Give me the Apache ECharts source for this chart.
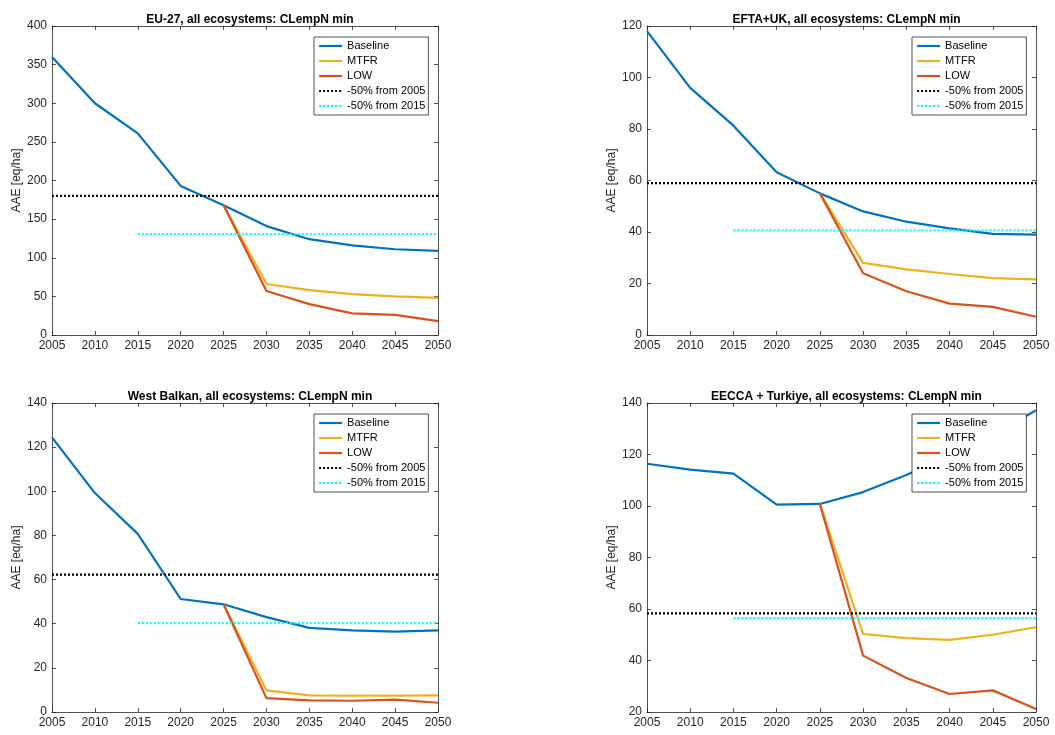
<!DOCTYPE html>
<html>
<head>
<meta charset="utf-8">
<script src="https://cdn.jsdelivr.net/npm/echarts@6/dist/echarts.min.js"></script>
<style>html,body{margin:0;padding:0;background:#fff}#c{width:1055px;height:735px}</style>
</head>
<body>
<div id="c"></div>
<script>
const years = [2005, 2010, 2015, 2020, 2025, 2030, 2035, 2040, 2045, 2050];
const seriesNames = ['Baseline', 'MTFR', 'LOW', '-50% from 2005', '-50% from 2015'];
const panelTitles = [
  'EU-27, all ecosystems: CLempN min',
  'EFTA+UK, all ecosystems: CLempN min',
  'West Balkan, all ecosystems: CLempN min',
  'EECCA + Turkiye, all ecosystems: CLempN min'
];

// EU-27
const euBaseline = [360, 300, 261, 193, 168, 141, 124, 116, 111, 109];
const euMtfr = [null, null, null, null, 168, 66, 58, 53, 50, 48];
const euLow = [null, null, null, null, 168, 57, 40, 28, 26, 18];
const euRef2005 = 180;
const euRef2015 = 130.5;

// EFTA+UK
const eftaBaseline = [118, 96, 81.3, 63.2, 55, 48, 44, 41.4, 39.3, 39];
const eftaMtfr = [null, null, null, null, 55, 28, 25.5, 23.7, 22.1, 21.6];
const eftaLow = [null, null, null, null, 55, 24, 17, 12.2, 10.9, 7.1];
const eftaRef2005 = 59;
const eftaRef2015 = 40.6;

// West Balkan
const wbBaseline = [124.4, 99.2, 80.7, 51.2, 48.8, 43, 38.1, 37, 36.4, 37];
const wbMtfr = [null, null, null, null, 48.8, 9.8, 7.5, 7.4, 7.4, 7.5];
const wbLow = [null, null, null, null, 48.8, 6.3, 5.3, 5.1, 5.6, 4.2];
const wbRef2005 = 62.2;
const wbRef2015 = 40.3;

// EECCA + Turkiye
const eeBaseline = [116.4, 114.1, 112.6, 100.5, 100.8, 105.4, 112, 119.5, 127.5, 137.2];
const eeMtfr = [null, null, null, null, 100.8, 50.3, 48.7, 48, 50, 52.9];
const eeLow = [null, null, null, null, 100.8, 41.9, 33.2, 27, 28.4, 21.2];
const eeRef2005 = 58.3;
const eeRef2015 = 56.4;

// y-axis ranges (min, max, interval)
const yMins = [0, 0, 0, 20];
const yMaxs = [400, 120, 140, 140];
const yIntervals = [50, 20, 20, 20];

const panels = [
  {b: euBaseline, m: euMtfr, l: euLow, r05: euRef2005, r15: euRef2015},
  {b: eftaBaseline, m: eftaMtfr, l: eftaLow, r05: eftaRef2005, r15: eftaRef2015},
  {b: wbBaseline, m: wbMtfr, l: wbLow, r05: wbRef2005, r15: wbRef2015},
  {b: eeBaseline, m: eeMtfr, l: eeLow, r05: eeRef2005, r15: eeRef2015}
];

const layout = [
  {left: 52, top: 26, width: 386, height: 309},
  {left: 647, top: 26, width: 389, height: 309},
  {left: 52, top: 403, width: 386, height: 309},
  {left: 647, top: 403, width: 389, height: 309}
];

const AX = '#262626';
const FONT = 'Liberation Sans, Arial, Helvetica, sans-serif';
const colors = ['#0072BD', '#EDB120', '#D95319', '#000000', '#00FFFF'];

function pairs(arr) {
  const out = [];
  arr.forEach((v, i) => { if (v !== null) out.push([years[i], v]); });
  return out;
}

const grid = [], xAxis = [], yAxis = [], series = [], title = [], legend = [];
panels.forEach((p, i) => {
  const g = layout[i];
  grid.push(Object.assign({containLabel: false}, g));
  const axLine = {show: true, onZero: false, lineStyle: {color: AX, width: 0.8}};
  const tick = {show: true, inside: true, length: 4, lineStyle: {color: AX, width: 0.8}};
  xAxis.push({
    type: 'value', gridIndex: i, min: 2005, max: 2050, interval: 5,
    axisLine: axLine, axisTick: tick, splitLine: {show: false},
    axisLabel: {color: AX, fontSize: 12, fontFamily: FONT, margin: 5, formatter: v => String(v)}
  });
  xAxis.push({
    type: 'value', gridIndex: i, position: 'top', min: 2005, max: 2050, interval: 5,
    axisLine: axLine, axisTick: tick, splitLine: {show: false}, axisLabel: {show: false}
  });
  yAxis.push({
    type: 'value', gridIndex: i, min: yMins[i], max: yMaxs[i], interval: yIntervals[i],
    name: 'AAE [eq/ha]', nameLocation: 'middle', nameGap: 29,
    nameTextStyle: {color: AX, fontSize: 12, fontFamily: FONT},
    axisLine: axLine, axisTick: tick, splitLine: {show: false},
    axisLabel: {color: AX, fontSize: 12, fontFamily: FONT, margin: 5}
  });
  yAxis.push({
    type: 'value', gridIndex: i, position: 'right', min: yMins[i], max: yMaxs[i], interval: yIntervals[i],
    axisLine: axLine, axisTick: tick, splitLine: {show: false}, axisLabel: {show: false}
  });
  title.push({
    text: panelTitles[i], left: g.left + g.width / 2, textAlign: 'center', top: g.top - 17,
    textStyle: {fontSize: 12, fontWeight: 'bold', color: '#000', fontFamily: FONT}
  });
  legend.push({
    data: seriesNames, orient: 'vertical', left: g.left + g.width - 124, top: g.top + 11,
    itemWidth: 23, itemHeight: 12, itemGap: 3, padding: [3, 3, 3, 4],
    backgroundColor: '#fff', borderColor: AX, borderWidth: 0.8, borderRadius: 0,
    selectedMode: false,
    itemStyle: {opacity: 0},
    lineStyle: {width: 2.2},
    textStyle: {color: '#000', fontSize: 11, fontFamily: FONT, lineHeight: 12}
  });
  const xi = i * 2, yi = i * 2;
  const datasets = [
    pairs(p.b), pairs(p.m), pairs(p.l),
    [[years[0], p.r05], [years[years.length - 1], p.r05]],
    [[years[2], p.r15], [years[years.length - 1], p.r15]]
  ];
  datasets.forEach((d, k) => {
    series.push({
      type: 'line', name: seriesNames[k], xAxisIndex: xi, yAxisIndex: yi, data: d,
      symbol: 'none', showSymbol: false, silent: true, animation: false,
      itemStyle: {color: colors[k]},
      lineStyle: {color: colors[k], width: 2.2, type: k >= 3 ? [2, 2] : 'solid'},
      z: 2 + k * 0.01
    });
  });
});

const chart = echarts.init(document.getElementById('c'), null, {renderer: 'canvas'});
chart.setOption({
  backgroundColor: '#fff', animation: false,
  title, legend, grid, xAxis, yAxis, series
});
</script>
</body>
</html>
